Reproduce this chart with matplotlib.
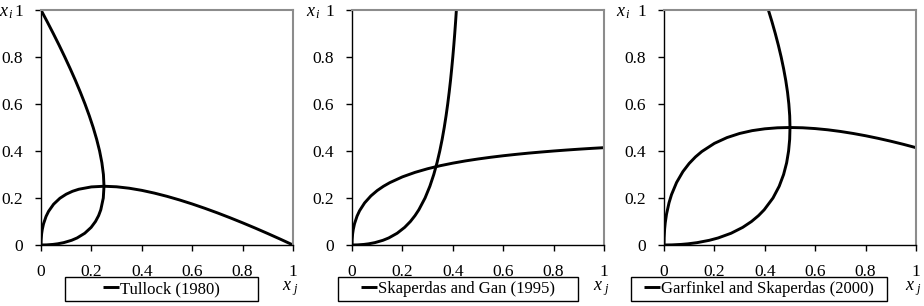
import matplotlib.pyplot as plt
from matplotlib.patches import Rectangle

plt.rcParams['font.family'] = ['Liberation Serif', 'DejaVu Serif']
plt.rcParams['mathtext.fontset'] = 'custom'
plt.rcParams['mathtext.rm'] = 'Liberation Serif'
plt.rcParams['mathtext.it'] = 'Liberation Serif:italic'

# effort of the other player, x_j
xj = [0, 0.0005, 0.0025, 0.005, 0.01, 0.02, 0.03, 0.05, 0.075, 0.1, 0.125, 0.15, 0.2, 0.25,
      0.3, 0.35, 0.4, 0.45, 0.5, 0.55, 0.6, 0.65, 0.7, 0.75, 0.8, 0.85, 0.9, 0.95, 1.0]

# best response x_i
tullock = [0, 0.0219, 0.0475, 0.0657, 0.09, 0.1214, 0.1432, 0.1736, 0.1989, 0.2162, 0.2286,
           0.2373, 0.2472, 0.25, 0.2477, 0.2416, 0.2325, 0.2208, 0.2071, 0.1916, 0.1746,
           0.1562, 0.1367, 0.116, 0.0944, 0.072, 0.0487, 0.0247, 0]
skap_gan = [0, 0.0219, 0.0476, 0.0659, 0.0905, 0.1228, 0.1458, 0.1791, 0.2089, 0.2317, 0.25,
            0.2653, 0.2899, 0.309, 0.3245, 0.3374, 0.3483, 0.3578, 0.366, 0.3733, 0.3798,
            0.3856, 0.3909, 0.3956, 0.4, 0.404, 0.4077, 0.4111, 0.4142]
garf_skap = [0, 0.0311, 0.0682, 0.095, 0.1314, 0.18, 0.2149, 0.2662, 0.3123, 0.3472, 0.375,
             0.3977, 0.4325, 0.4571, 0.4746, 0.4867, 0.4944, 0.4987, 0.5, 0.4988, 0.4954,
             0.4902, 0.4832, 0.4747, 0.4649, 0.4538, 0.4416, 0.4284, 0.4142]

names = ['Tullock (1980)', 'Skaperdas and Gan (1995)', 'Garfinkel and Skaperdas (2000)']
series = [tullock, skap_gan, garf_skap]
ticks_x = [0, 0.2, 0.4, 0.6, 0.8, 1]
ticks_y = [0, 0.2, 0.4, 0.6, 0.8, 1]
tick_lbl = ['0', '0.2', '0.4', '0.6', '0.8', '1']

W, H = 924, 306
fig = plt.figure(figsize=(W / 100, H / 100), dpi=100)

lefts = [41, 352, 664]
box_x = [(65, 258), (338, 578), (631, 887)]
yl_off = [35, 39, 41]

for k in range(3):
    ax = fig.add_axes([lefts[k] / W, 61 / H, 252 / W, 235 / H])
    ax.plot(xj, series[k], color='black', lw=2.1, solid_capstyle='butt')
    ax.plot(series[k], xj, color='black', lw=2.1, solid_capstyle='butt')
    ax.set_xlim(0, 1)
    ax.set_ylim(0, 1)
    ax.set_xticks(ticks_x)
    ax.set_xticklabels(tick_lbl)
    ax.set_yticks(ticks_y)
    ax.set_yticklabels(tick_lbl)
    ax.tick_params(direction='out', length=4, width=1, labelsize=12.5, top=False, right=False)
    ax.tick_params(axis='x', pad=10)
    ax.tick_params(axis='y', pad=9)
    for s in ['left', 'bottom']:
        ax.spines[s].set_color('black')
        ax.spines[s].set_linewidth(1)
    for s in ['top', 'right']:
        ax.spines[s].set_color('#8c8c8c')
        ax.spines[s].set_linewidth(1.5)

    ax.text(-yl_off[k] / 252, 1 - 3 / 235, r'$x_{\,i}$', transform=ax.transAxes, fontsize=13,
            ha='center', va='center')
    ax.text(0.955, -0.185, r'$x_{\ j}$', transform=ax.transAxes, fontsize=13,
            ha='left', va='center')

    x0, x1 = box_x[k]
    bx0 = (x0 - lefts[k]) / 252
    bw = (x1 - x0) / 252
    by0 = (245 - 301) / 235
    bh = 24 / 235
    ax.add_patch(Rectangle((bx0, by0), bw, bh, transform=ax.transAxes, fill=False,
                           edgecolor='black', lw=1, clip_on=False))
    ax.legend([names[k]], loc='center', bbox_to_anchor=(bx0 + bw / 2, by0 + bh / 2),
              bbox_transform=ax.transAxes, frameon=False, fontsize=12,
              handlelength=1.0, handletextpad=0.05, borderpad=0, borderaxespad=0)

fig.savefig('out.png', dpi=100)
